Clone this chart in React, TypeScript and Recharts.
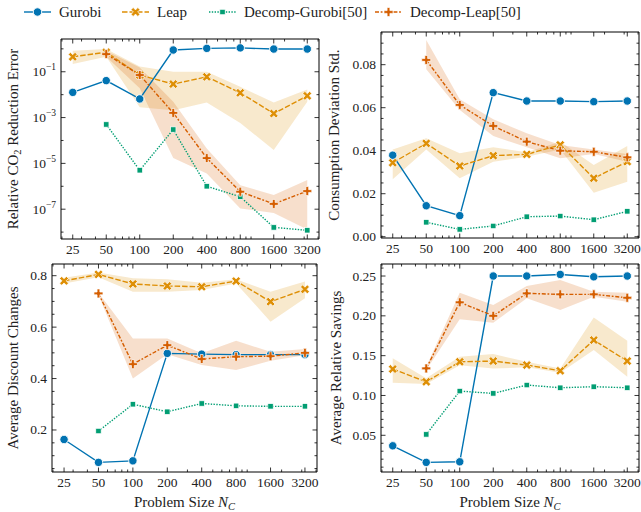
import React from 'react';
import { ComposedChart, Line, Area, XAxis, YAxis } from 'recharts';

const W = 641;
const H = 512;
const FONT = '"Liberation Serif", "DejaVu Serif", serif';

const BLUE = '#0173b2';
const ORANGE = '#de8f05';
const GREEN = '#029e73';
const RED = '#d55e00';

// problem sizes N_C
const sizes = [25, 50, 100, 200, 400, 800, 1600, 3200];
const sizeMinor = [20, 30, 40, 60, 70, 80, 90, 300, 500, 600, 700, 900, 1000, 2000, 3000, 4000];

// relative CO2 reduction error
const errGurobi = [0.0126, 0.041, 0.0065, 0.89, 1.05, 1.1, 0.98, 0.98];
const errLeap = [0.45, 0.71, 0.072, 0.029, 0.06, 0.012, 0.0015, 0.0089];
const errLeapLo = [0.22, 0.45, 0.0028, 0.0021, 0.0045, 0.00058, 3.8e-5, 0.0049];
const errLeapHi = [0.83, 0.99, 0.17, 0.1, 0.1, 0.022, 0.0045, 0.017];
const errDecGurobi = [null, 5e-4, 5e-6, 3e-4, 1e-6, 3.5e-7, 1.6e-8, 1.2e-8];
const errDecLeap = [null, 0.59, 0.072, 0.0016, 1.7e-5, 5.8e-7, 1.7e-7, 6.2e-7];
const errDecLeapLo = [null, 0.45, 0.019, 1.7e-5, 3.6e-6, 1.07e-7, 6.9e-8, 1.3e-8];
const errDecLeapHi = [null, 0.83, 0.155, 0.0049, 4.5e-5, 1.1e-6, 4.2e-7, 1.9e-6];

// consumption deviation std
const stdGurobi = [0.0379, 0.0144, 0.0098, 0.067, 0.0631, 0.0631, 0.0628, 0.0631];
const stdLeap = [0.0344, 0.0434, 0.0329, 0.0377, 0.0383, 0.0427, 0.0272, 0.0349];
const stdLeapLo = [0.0267, 0.0406, 0.0272, 0.0349, 0.0372, 0.0406, 0.0205, 0.0256];
const stdLeapHi = [0.0406, 0.0458, 0.0388, 0.0416, 0.0393, 0.0442, 0.0333, 0.0422];
const stdDecGurobi = [null, 0.0067, 0.0034, 0.005, 0.0093, 0.0096, 0.0079, 0.0118];
const stdDecLeap = [null, 0.0822, 0.0613, 0.0515, 0.0442, 0.04, 0.0395, 0.0369];
const stdDecLeapLo = [null, 0.0779, 0.0589, 0.0468, 0.0416, 0.0365, 0.0385, 0.0349];
const stdDecLeapHi = [null, 0.0915, 0.0639, 0.0546, 0.0481, 0.0427, 0.0406, 0.0385];

// average discount changes
const discGurobi = [0.163, 0.074, 0.08, 0.498, 0.495, 0.493, 0.493, 0.493];
const discLeap = [0.78, 0.805, 0.768, 0.76, 0.757, 0.779, 0.699, 0.747];
const discLeapLo = [0.77, 0.794, 0.738, 0.738, 0.744, 0.77, 0.621, 0.712];
const discLeapHi = [0.792, 0.812, 0.79, 0.786, 0.773, 0.786, 0.738, 0.777];
const discDecGurobi = [null, 0.196, 0.3, 0.271, 0.303, 0.294, 0.292, 0.292];
const discDecLeap = [null, 0.731, 0.456, 0.53, 0.476, 0.485, 0.487, 0.5];
const discDecLeapLo = [null, 0.725, 0.4, 0.495, 0.453, 0.433, 0.469, 0.491];
const discDecLeapHi = [null, 0.734, 0.556, 0.556, 0.498, 0.547, 0.504, 0.515];

// average relative savings
const savGurobi = [0.0368, 0.016, 0.0167, 0.25, 0.25, 0.252, 0.249, 0.25];
const savLeap = [0.1332, 0.1172, 0.1423, 0.1432, 0.1382, 0.131, 0.1696, 0.1432];
const savLeapLo = [0.116, 0.1143, 0.138, 0.134, 0.1353, 0.1286, 0.157, 0.1235];
const savLeapHi = [0.1466, 0.1215, 0.1486, 0.152, 0.1423, 0.134, 0.198, 0.1687];
const savDecGurobi = [null, 0.0511, 0.1055, 0.1026, 0.1131, 0.1097, 0.111, 0.1097];
const savDecLeap = [null, 0.134, 0.217, 0.2, 0.2282, 0.227, 0.227, 0.2227];
const savDecLeapLo = [null, 0.132, 0.1956, 0.1913, 0.222, 0.2073, 0.224, 0.2177];
const savDecLeapHi = [null, 0.136, 0.229, 0.2136, 0.2374, 0.245, 0.2303, 0.229];

// y ticks
const errMajor = [1e-7, 1e-5, 1e-3, 1e-1];
const errMinor = [1e-8, 1e-6, 1e-4, 1e-2, 1];
const stdMajor = [0, 0.02, 0.04, 0.06, 0.08];
const stdMinor = [0.005, 0.01, 0.015, 0.025, 0.03, 0.035, 0.045, 0.05, 0.055, 0.065, 0.07, 0.075, 0.085, 0.09];
const discMajor = [0.2, 0.4, 0.6, 0.8];
const discMinor = [0.05, 0.1, 0.15, 0.25, 0.3, 0.35, 0.45, 0.5, 0.55, 0.65, 0.7, 0.75];
const savMajor = [0.05, 0.1, 0.15, 0.2, 0.25];
const savMinor = [0.01, 0.02, 0.03, 0.04, 0.06, 0.07, 0.08, 0.09, 0.11, 0.12, 0.13, 0.14, 0.16, 0.17, 0.18, 0.19, 0.21, 0.22, 0.23, 0.24, 0.26];

const xDomain = [19.61, 4079];

const buildRows = (g, l, lLo, lHi, dg, dl, dlLo, dlHi) =>
  sizes.map((n, i) => ({
    n,
    gurobi: g[i],
    leap: l[i],
    leapBand: [lLo[i], lHi[i]],
    decGurobi: dg[i],
    decLeap: dl[i],
    decLeapBand: dl[i] == null ? null : [dlLo[i], dlHi[i]],
  }));

const crossPts = (L, w) => [
  [-w, -L], [w, -L], [w, -w], [L, -w], [L, w], [w, w],
  [w, L], [-w, L], [-w, w], [-L, w], [-L, -w], [-w, -w],
];
const polyStr = (cx, cy, pts, rot) => {
  const c = Math.cos(rot);
  const s = Math.sin(rot);
  return pts.map(([px, py]) => `${cx + px * c - py * s},${cy + px * s + py * c}`).join(' ');
};

const Marker = ({ kind, cx, cy }) => {
  if (kind === 'circle') return <circle cx={cx} cy={cy} r={4.2} fill={BLUE} stroke="#fff" strokeWidth={0.9} />;
  if (kind === 'x') return <polygon points={polyStr(cx, cy, crossPts(4.8, 1.5), Math.PI / 4)} fill={ORANGE} stroke="#fff" strokeWidth={0.7} />;
  if (kind === 'square') return <rect x={cx - 2.7} y={cy - 2.7} width={5.4} height={5.4} fill={GREEN} stroke="#fff" strokeWidth={0.7} />;
  return <polygon points={polyStr(cx, cy, crossPts(4.5, 1.4), 0)} fill={RED} stroke="#fff" strokeWidth={0.7} />;
};

const dotFor = (kind) => (p) =>
  p.cy == null || Number.isNaN(p.cy) || p.value == null ? (
    <g key={`n${p.index}`} />
  ) : (
    <g key={`m${p.index}`}>
      <Marker kind={kind} cx={p.cx} cy={p.cy} />
    </g>
  );

const txt = { fontFamily: FONT, fontSize: 13.5, fill: '#222' };

const XTick = ({ x, y, payload, side }) => {
  const major = sizes.includes(payload.value);
  const len = major ? 4.5 : 2.5;
  return (
    <g>
      <line x1={x} x2={x} y1={y} y2={side === 'top' ? y + len : y - len} stroke="#000" strokeWidth={0.8} />
      {major && side !== 'top' && (
        <text x={x} y={y + 15} textAnchor="middle" {...txt}>
          {payload.value}
        </text>
      )}
    </g>
  );
};

const YTick = ({ x, y, payload, side, majors, fmt }) => {
  const major = majors.includes(payload.value);
  const len = major ? 4.5 : 2.5;
  return (
    <g>
      <line x1={x} x2={side === 'right' ? x - len : x + len} y1={y} y2={y} stroke="#000" strokeWidth={0.8} />
      {major && side !== 'right' && (
        <text x={x - 5} y={y + 4.5} textAnchor="end" {...txt}>
          {fmt(payload.value)}
        </text>
      )}
    </g>
  );
};

const logFmt = (v) => (
  <>
    10
    <tspan dy={-6} fontSize={9.5}>
      {`\u2212${Math.round(-Math.log10(v))}`}
    </tspan>
  </>
);

const Panel = ({ box, rows, yDomain, yScale, yMajor, yMinor, yFmt }) => {
  // axes are 1px thick, so the margins stop 1px short of the frame
  const margin = { top: box.t - 1, left: box.l - 1, right: W - box.r - 1, bottom: H - box.b - 1 };
  const yTicks = [...yMajor, ...yMinor].sort((a, b) => a - b);
  const xTicks = [...sizes, ...sizeMinor].sort((a, b) => a - b);
  const axisLine = { stroke: '#000', strokeWidth: 1 };
  return (
    <div style={{ position: 'absolute', left: 0, top: 0 }}>
      <ComposedChart width={W} height={H} data={rows} margin={margin}>
        <XAxis dataKey="n" type="number" scale="log" domain={xDomain} allowDataOverflow ticks={xTicks} interval={0}
          height={1} tickSize={0} tickMargin={0} tickLine={false} axisLine={axisLine}
          tick={(p) => <XTick {...p} side="bottom" />} />
        <XAxis xAxisId="top" orientation="top" dataKey="n" type="number" scale="log" domain={xDomain} allowDataOverflow ticks={xTicks} interval={0}
          height={1} tickSize={0} tickMargin={0} tickLine={false} axisLine={axisLine}
          tick={(p) => <XTick {...p} side="top" />} />
        <YAxis type="number" scale={yScale} domain={yDomain} allowDataOverflow ticks={yTicks} interval={0}
          width={1} tickSize={0} tickMargin={0} tickLine={false} axisLine={axisLine}
          tick={(p) => <YTick {...p} side="left" majors={yMajor} fmt={yFmt} />} />
        <YAxis yAxisId="right" orientation="right" type="number" scale={yScale} domain={yDomain} allowDataOverflow ticks={yTicks} interval={0}
          width={1} tickSize={0} tickMargin={0} tickLine={false} axisLine={axisLine}
          tick={(p) => <YTick {...p} side="right" majors={yMajor} fmt={yFmt} />} />
        <Area dataKey="leapBand" stroke="none" fill={ORANGE} fillOpacity={0.2} isAnimationActive={false} activeDot={false} />
        <Area dataKey="decLeapBand" stroke="none" fill={RED} fillOpacity={0.2} isAnimationActive={false} activeDot={false} />
        <Line dataKey="gurobi" stroke={BLUE} strokeWidth={1.4} dot={dotFor('circle')} activeDot={false} isAnimationActive={false} />
        <Line dataKey="leap" stroke={ORANGE} strokeWidth={1.4} strokeDasharray="5.5 2" dot={dotFor('x')} activeDot={false} isAnimationActive={false} />
        <Line dataKey="decGurobi" stroke={GREEN} strokeWidth={1.4} strokeDasharray="1.4 1.4" dot={dotFor('square')} activeDot={false} isAnimationActive={false} />
        <Line dataKey="decLeap" stroke={RED} strokeWidth={1.4} strokeDasharray="4 1.7 1.8 1.7" dot={dotFor('plus')} activeDot={false} isAnimationActive={false} />
      </ComposedChart>
    </div>
  );
};

const legendItems = [
  { label: 'Gurobi', x: 24, kind: 'circle', color: BLUE, dash: undefined },
  { label: 'Leap', x: 122, kind: 'x', color: ORANGE, dash: '5.5 2' },
  { label: 'Decomp-Gurobi[50]', x: 209, kind: 'square', color: GREEN, dash: '1.4 1.4' },
  { label: 'Decomp-Leap[50]', x: 375, kind: 'plus', color: RED, dash: '4 1.7 1.8 1.7' },
];

const labelStyle = { fontFamily: FONT, fontSize: 15, fill: '#222' };

const Overlay = () => (
  <svg width={W} height={H} style={{ position: 'absolute', left: 0, top: 0, pointerEvents: 'none' }}>
    {legendItems.map((it) => (
      <g key={it.label}>
        <line x1={it.x} x2={it.x + 27} y1={12} y2={12} stroke={it.color} strokeWidth={1.4} strokeDasharray={it.dash} />
        <Marker kind={it.kind} cx={it.x + 13.5} cy={12} />
        <text x={it.x + 35} y={17} {...labelStyle}>{it.label}</text>
      </g>
    ))}
    <text transform="rotate(-90 18 139)" x={18} y={139} textAnchor="middle" {...labelStyle}>
      Relative CO<tspan dy={3} fontSize={10.5}>2</tspan><tspan dy={-3}> Reduction Error</tspan>
    </text>
    <text transform="rotate(-90 339 135)" x={339} y={135} textAnchor="middle" {...labelStyle}>
      Consumption Deviation Std.
    </text>
    <text transform="rotate(-90 18 368)" x={18} y={368} textAnchor="middle" {...labelStyle}>
      Average Discount Changes
    </text>
    <text transform="rotate(-90 341 368)" x={341} y={368} textAnchor="middle" {...labelStyle}>
      Average Relative Savings
    </text>
    {[184.5, 510].map((cx) => (
      <text key={cx} x={cx} y={507} textAnchor="middle" {...labelStyle}>
        Problem Size <tspan fontStyle="italic">N</tspan>
        <tspan fontStyle="italic" fontSize={10.5} dy={3}>C</tspan>
      </text>
    ))}
  </svg>
);

export default function App() {
  const errRows = buildRows(errGurobi, errLeap, errLeapLo, errLeapHi, errDecGurobi, errDecLeap, errDecLeapLo, errDecLeapHi);
  const stdRows = buildRows(stdGurobi, stdLeap, stdLeapLo, stdLeapHi, stdDecGurobi, stdDecLeap, stdDecLeapLo, stdDecLeapHi);
  const discRows = buildRows(discGurobi, discLeap, discLeapLo, discLeapHi, discDecGurobi, discDecLeap, discDecLeapLo, discDecLeapHi);
  const savRows = buildRows(savGurobi, savLeap, savLeapLo, savLeapHi, savDecGurobi, savDecLeap, savDecLeapLo, savDecLeapHi);
  return (
    <div style={{ position: 'absolute', left: 0, top: 0, width: W, height: H, background: '#fff', overflow: 'hidden' }}>
      <Panel box={{ l: 61, t: 39, r: 319, b: 239 }} rows={errRows} yDomain={[5e-9, 2.69]} yScale="log"
        yMajor={errMajor} yMinor={errMinor} yFmt={logFmt} />
      <Panel box={{ l: 381, t: 32, r: 639, b: 238 }} rows={stdRows} yDomain={[-0.0006, 0.0952]} yScale="linear"
        yMajor={stdMajor} yMinor={stdMinor} yFmt={(v) => v.toFixed(2)} />
      <Panel box={{ l: 52, t: 264, r: 317, b: 472 }} rows={discRows} yDomain={[0.0366, 0.8455]} yScale="linear"
        yMajor={discMajor} yMinor={discMinor} yFmt={(v) => v.toFixed(1)} />
      <Panel box={{ l: 381, t: 264, r: 639, b: 472 }} rows={savRows} yDomain={[0.0039, 0.2651]} yScale="linear"
        yMajor={savMajor} yMinor={savMinor} yFmt={(v) => v.toFixed(2)} />
      <Overlay />
    </div>
  );
}
